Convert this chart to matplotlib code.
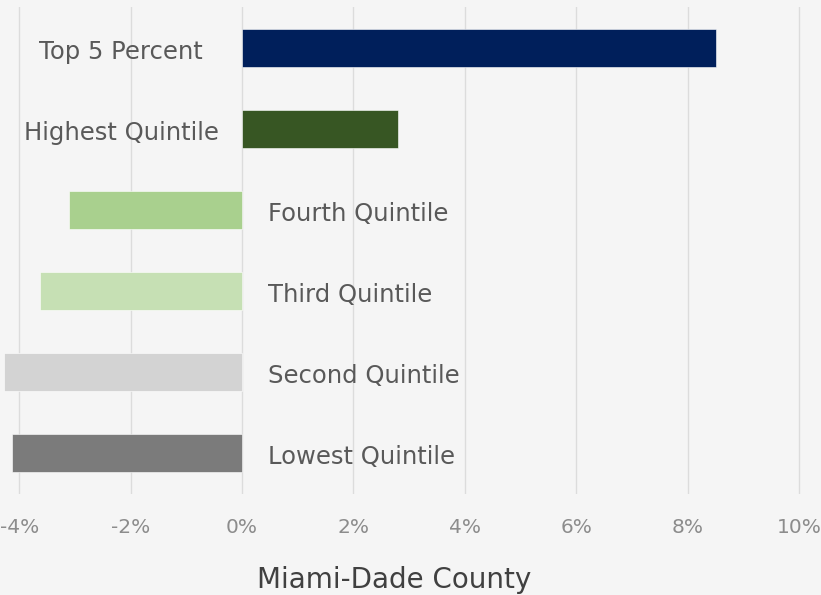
import matplotlib.pyplot as plt

categories = ['Top 5 Percent', 'Highest Quintile', 'Fourth Quintile',
              'Third Quintile', 'Second Quintile', 'Lowest Quintile']
values = [8.51, 2.80, -3.11, -3.63, -4.27, -4.13]
colors = ['#001f5b', '#375623', '#a9d08e', '#c6e0b4', '#d3d3d3', '#7b7b7b']
ticks = [-4, -2, 0, 2, 4, 6, 8, 10]
tick_labels = ['-4%', '-2%', '0%', '2%', '4%', '6%', '8%', '10%']

bg = '#f5f5f5'
fig = plt.figure(figsize=(8.21, 5.95), dpi=100, facecolor=bg)
ax = fig.add_axes([0, 1 - 494 / 595, 1, 487 / 595], facecolor=bg)

ypos = list(range(len(categories)))
ax.barh(ypos, values, height=0.47, color=colors, edgecolor='#ffffff',
        linewidth=0.4, zorder=3)

# labels sit on the opposite side of the zero line from the bar
for y, name, v in zip(ypos, categories, values):
    if v >= 0:
        ax.text(-2.17, y + 0.05, name, ha='center', va='center', fontsize=17.5,
                color='#595959', zorder=4)
    else:
        ax.text(0.47, y + 0.05, name, ha='left', va='center', fontsize=17.5,
                color='#595959', zorder=4)

ax.set_xlim(-4.345, 10.395)
ax.set_ylim(len(categories) - 0.5, -0.5)
ax.set_xticks(ticks)
ax.set_xticklabels(tick_labels)
ax.set_yticks([])
ax.tick_params(axis='x', length=0, pad=17, labelsize=14.5, labelcolor='#8c8c8c')
for lbl in ax.get_xticklabels():
    lbl.set_family(['Liberation Sans Narrow', 'DejaVu Sans'])
ax.grid(axis='x', color='#dcdcdc', linewidth=1.0, zorder=0)
for s in ax.spines.values():
    s.set_visible(False)

fig.text(394 / 821, 1 - 580 / 595, 'Miami-Dade County', ha='center',
         va='center', fontsize=20, color='#404040')

fig.savefig('out.png', dpi=100, facecolor=bg)
